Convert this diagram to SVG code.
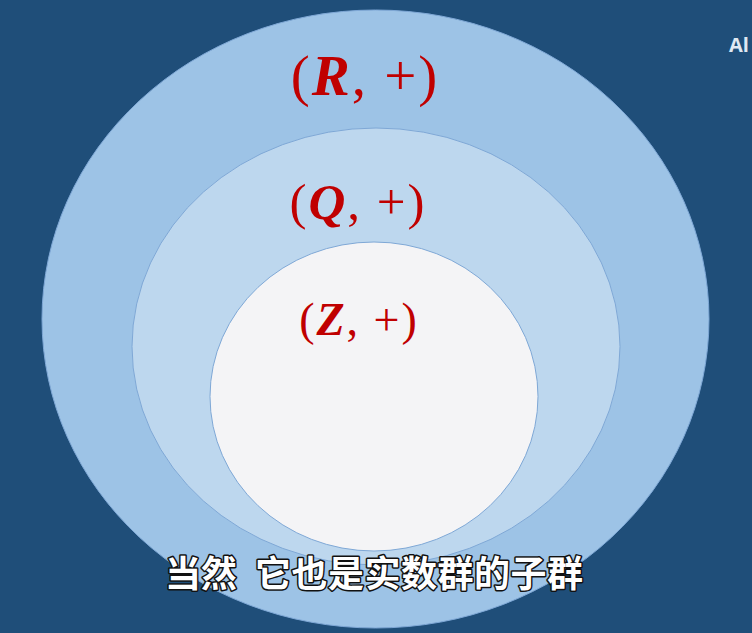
<svg xmlns="http://www.w3.org/2000/svg" width="752" height="633" viewBox="0 0 752 633">
<style>
.ring{stroke:#7fa8d6;stroke-width:1}
.math{font-family:"Liberation Serif","DejaVu Serif",serif;fill:#c00000;text-anchor:middle;letter-spacing:2px}
.var{font-weight:bold;font-style:italic}
.sub{font-family:"Noto Sans CJK SC",sans-serif;font-weight:bold;font-size:36px;fill:#ffffff;stroke:#111111;stroke-width:3;paint-order:stroke;stroke-linejoin:round}
</style>
<rect x="0" y="0" width="752" height="633" fill="#1f4e79"/>
<g id="R">
<ellipse class="ring" cx="375.5" cy="319" rx="333.5" ry="309" fill="#9dc3e6"/>
<text class="math" x="365" y="95" font-size="57">(<tspan class="var">R</tspan>, +)</text>
</g>
<g id="Q">
<ellipse class="ring" cx="376" cy="346.5" rx="244" ry="218.5" fill="#bdd7ee"/>
<text class="math" x="358" y="219" font-size="51">(<tspan class="var">Q</tspan>, +)</text>
</g>
<g id="Z">
<ellipse class="ring" cx="374" cy="396.5" rx="164" ry="154.5" fill="#f4f4f6"/>
<text class="math" x="359" y="335" font-size="46">(<tspan class="var">Z</tspan>, +)</text>
</g>
<g id="connectors"></g>
<text x="729" y="52" font-family="Open Sans, sans-serif" font-weight="bold" font-size="20" fill="#dfe8f2">Al</text>
<text class="sub" y="587"><tspan x="165">当然</tspan><tspan x="255" letter-spacing="0.5">它也是实数群的子群</tspan></text>
</svg>
